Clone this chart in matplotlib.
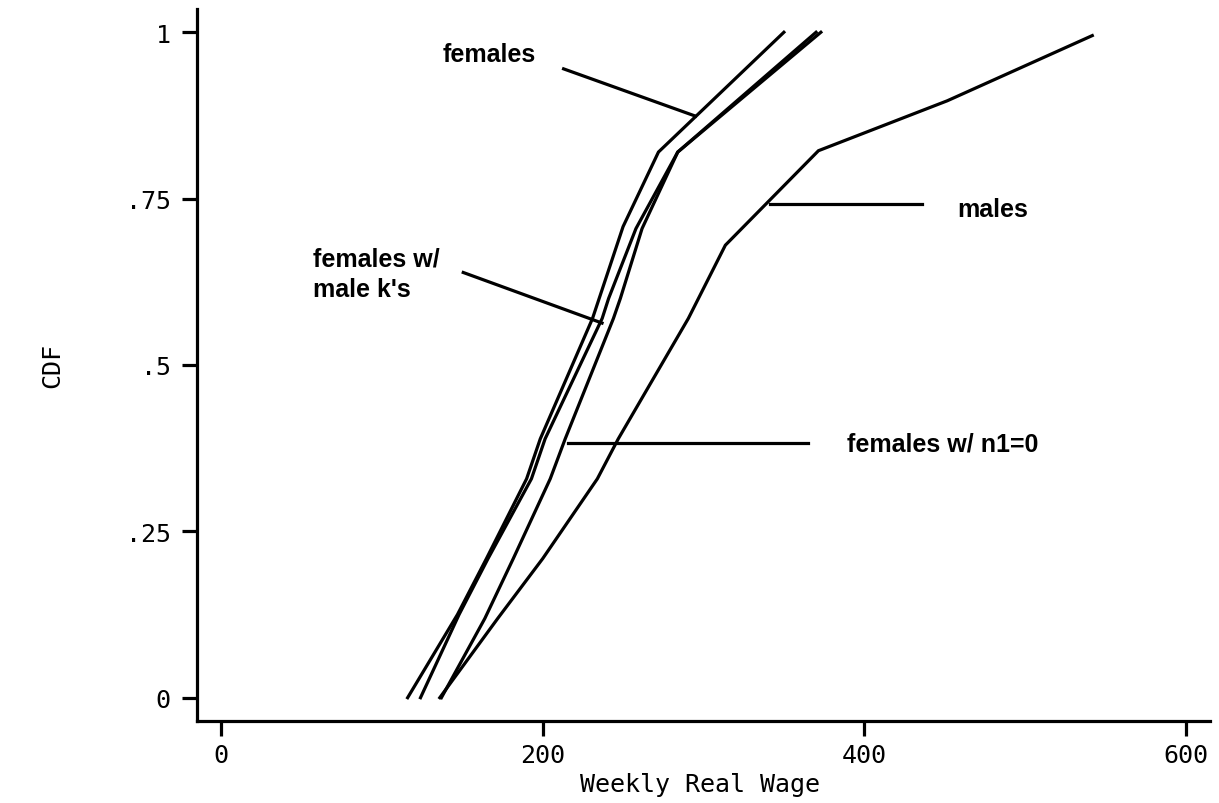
import matplotlib
matplotlib.use("Agg")
import matplotlib.pyplot as plt

# CDF of weekly real wage
females_x = [116, 147, 165, 190, 198.5, 231, 250, 272, 350]
females_y = [0, 0.125, 0.209, 0.329, 0.389, 0.57, 0.708, 0.82, 1.0]

females_mk_x = [124, 148, 166, 193, 201.5, 237, 241, 258, 284, 370]
females_mk_y = [0, 0.125, 0.209, 0.329, 0.389, 0.57, 0.6, 0.705, 0.82, 1.0]

females_n1_x = [137, 164, 181.7, 204.7, 214, 244, 248.3, 261.8, 284, 373]
females_n1_y = [0, 0.119, 0.209, 0.329, 0.389, 0.57, 0.6, 0.705, 0.82, 1.0]

males_x = [136, 172, 200, 234, 247, 290.6, 313.6, 371.5, 451.6, 541.8]
males_y = [0, 0.119, 0.209, 0.329, 0.389, 0.57, 0.68, 0.822, 0.897, 0.995]

x_ticks = [0, 200, 400, 600]
y_ticks = [0, 0.25, 0.5, 0.75, 1]
y_tick_labels = ["0", ".25", ".5", ".75", "1"]

# (label, text position, leader start, leader end, alignment)
labels = [
    ("females", (167, 0.968), (213, 0.945), (295, 0.874), "center"),
    ("males", (480, 0.735), (341.6, 0.742), (436, 0.742), "center"),
    ("females w/\nmale k's", (57, 0.637), (150.6, 0.639), (236.9, 0.563), "left"),
    ("females w/ n1=0", (389, 0.382), (216, 0.383), (365, 0.383), "left"),
]

MONO = "DejaVu Sans Mono"
LW = 2.3

fig = plt.figure(figsize=(12.19, 8.04), dpi=100, facecolor="white")
ax = fig.add_axes([0.1616, 0.102, 0.831, 0.8856])

for xs, ys in [
    (females_x, females_y),
    (females_mk_x, females_mk_y),
    (females_n1_x, females_n1_y),
    (males_x, males_y),
]:
    ax.plot(xs, ys, color="black", linewidth=LW, solid_joinstyle="miter")

for text, pos, start, end, ha in labels:
    ax.plot([start[0], end[0]], [start[1], end[1]], color="black", linewidth=LW)
    ax.text(
        pos[0], pos[1], text,
        ha=ha, va="center",
        fontsize=18, fontweight="bold",
        family="Liberation Sans",
        linespacing=1.35,
    )

ax.set_xlim(-15, 615)
ax.set_ylim(-0.035, 1.035)

ax.set_xticks(x_ticks)
ax.set_xticklabels([str(v) for v in x_ticks], family=MONO, fontsize=18)
ax.set_yticks(y_ticks)
ax.set_yticklabels(y_tick_labels, family=MONO, fontsize=18)

ax.tick_params(axis="both", direction="out", length=11, width=LW, color="black")
ax.tick_params(axis="x", pad=5)
ax.tick_params(axis="y", pad=8)

for side in ["top", "right"]:
    ax.spines[side].set_visible(False)
for side in ["left", "bottom"]:
    ax.spines[side].set_linewidth(LW)

fig.text(0.043, 0.545, "CDF", rotation=90, ha="center", va="center",
         family=MONO, fontsize=18)
fig.text(0.574, 0.024, "Weekly Real Wage", ha="center", va="center",
         family=MONO, fontsize=18)

fig.savefig("out.png", dpi=100, facecolor="white")
